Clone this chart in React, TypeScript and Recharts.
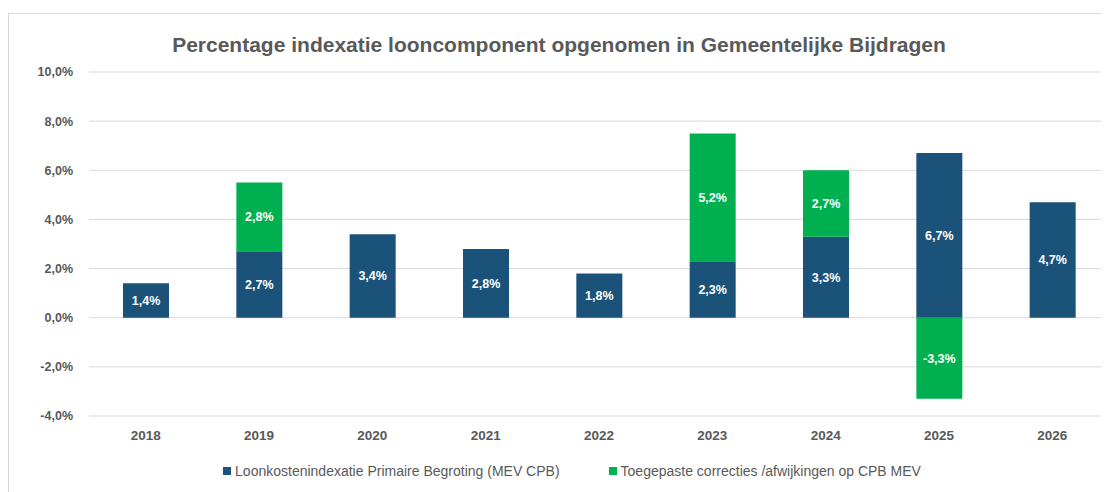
import { BarChart, Bar, XAxis, YAxis, CartesianGrid, LabelList } from "recharts";

const years = ["2018", "2019", "2020", "2021", "2022", "2023", "2024", "2025", "2026"];
const primaire = [1.4, 2.7, 3.4, 2.8, 1.8, 2.3, 3.3, 6.7, 4.7];
const correcties = [null, 2.8, null, null, null, 5.2, 2.7, -3.3, null];
const yTicks = [-4, -2, 0, 2, 4, 6, 8, 10];

const BLUE = "#1B5279";
const GREEN = "#00B050";
const GREY = "#595959";
const SANS = "'Liberation Sans', Arial, sans-serif";

const data = years.map((year, i) => ({ year, primaire: primaire[i], correcties: correcties[i] }));

const fmt = (v: any) => `${Number(v).toFixed(1).replace(".", ",")}%`;
const barLabel = (v: any) => (v == null || v === 0 ? "" : fmt(v));

function LegendBox() {
  const item = (color: string, text: string) => (
    <span style={{ display: "inline-flex", alignItems: "center", gap: 4 }}>
      <span style={{ width: 8, height: 8, background: color, display: "inline-block" }} />
      {text}
    </span>
  );
  return (
    <div
      style={{
        position: "absolute",
        top: 449,
        left: 13,
        width: 1100,
        display: "flex",
        justifyContent: "center",
        gap: 49,
        fontFamily: SANS,
        fontSize: 14,
        color: GREY,
      }}
    >
      {item(BLUE, "Loonkostenindexatie Primaire Begroting (MEV CPB)")}
      {item(GREEN, "Toegepaste correcties /afwijkingen op CPB MEV")}
    </div>
  );
}

export default function App() {
  return (
    <div
      style={{
        position: "relative",
        width: 1100,
        height: 478,
        marginTop: 5,
        borderTop: "1px solid #d9d9d9",
        borderLeft: "1px solid #d9d9d9",
        background: "#fff",
      }}
    >
      <div
        style={{
          position: "absolute",
          top: 19,
          left: 0,
          width: 1100,
          textAlign: "center",
          fontFamily: SANS,
          fontWeight: "bold",
          fontSize: 21,
          color: GREY,
        }}
      >
        Percentage indexatie looncomponent opgenomen in Gemeentelijke Bijdragen
      </div>
      <BarChart
        width={1100}
        height={478}
        data={data}
        stackOffset="sign"
        barSize={46}
        margin={{ top: 58, right: 0, left: 0, bottom: 46 }}
      >
        <CartesianGrid vertical={false} stroke="#d9d9d9" />
        <XAxis
          dataKey="year"
          height={30}
          axisLine={false}
          tickLine={false}
          tickSize={0}
          tickMargin={14}
          tick={{ fill: GREY, fontSize: 13.5, fontWeight: "bold", fontFamily: SANS }}
        />
        <YAxis
          width={80}
          domain={[-4, 10]}
          ticks={yTicks}
          interval={0}
          axisLine={false}
          tickLine={false}
          tickSize={0}
          tickMargin={16}
          tickFormatter={fmt}
          tick={{ fill: GREY, fontSize: 12.5, fontWeight: "bold", fontFamily: SANS }}
        />
        <Bar dataKey="primaire" stackId="a" fill={BLUE} isAnimationActive={false}>
          <LabelList
            dataKey="primaire"
            position="center"
            formatter={barLabel}
            fill="#fff"
            style={{ fontSize: 12.5, fontWeight: "bold", fontFamily: SANS }}
          />
        </Bar>
        <Bar dataKey="correcties" stackId="a" fill={GREEN} isAnimationActive={false}>
          <LabelList
            dataKey="correcties"
            position="center"
            formatter={barLabel}
            fill="#fff"
            style={{ fontSize: 12.5, fontWeight: "bold", fontFamily: SANS }}
          />
        </Bar>
      </BarChart>
      <LegendBox />
    </div>
  );
}
